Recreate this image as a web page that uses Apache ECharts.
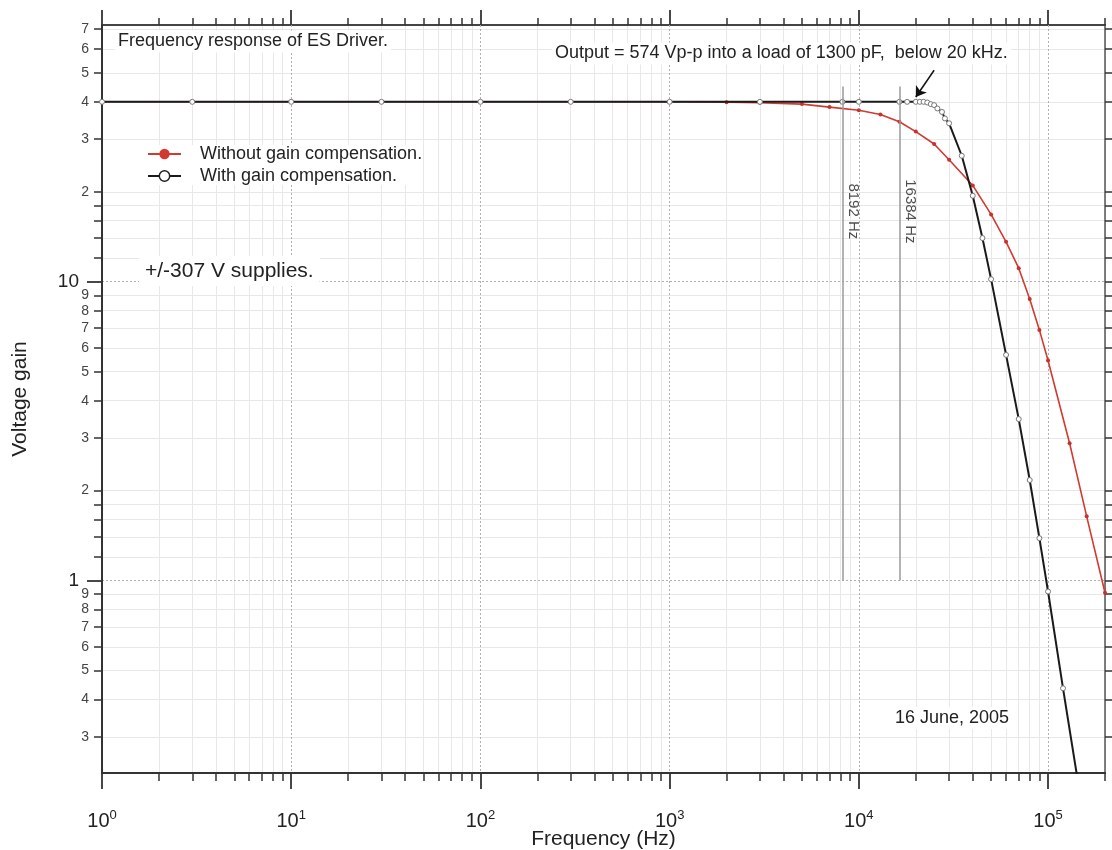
<!DOCTYPE html>
<html><head><meta charset="utf-8">
<script src="https://cdn.jsdelivr.net/npm/echarts@6/dist/echarts.min.js"></script>
<style>html,body{margin:0;padding:0;background:#fff}#c{width:1112px;height:850px}</style>
</head><body><div id="c"></div>
<script>
// ---------- data ----------
const freqWithout = [1,3,10,30,100,300,1000,2000,3000,5000,7000,10000,13000,16384,20000,25000,30000,40000,50000,60000,70000,80000,90000,100000,130000,160000,200000];
const gainWithout = [40,40,40,40,40,40,40,39.9,39.7,39.3,38.4,37.5,36.3,34.3,31.8,28.9,25.6,21.0,16.8,13.6,11.1,8.75,6.9,5.45,2.88,1.64,0.91];
const freqWith = [1,3,10,30,100,300,1000,3000,8192,10000,16384,18000,20000,21000,22000,23000,24000,25000,26000,27500,28500,30000,35000,40000,45000,50000,60000,70000,80000,90000,100000,120000,150000];
const gainWith = [40,40,40,40,40,40,40,40,40,40,40,40,40,40,40,39.8,39.3,39.0,38.0,37.0,35.2,33.9,26.4,19.4,14.0,10.2,5.69,3.47,2.17,1.386,0.919,0.436,0.18];
const seriesNames = ['Without gain compensation.', 'With gain compensation.'];
const markerFreqs = [8192, 16384];          // vertical reference lines
const markerTopGain = 45, markerBottomGain = 1, markerLabelGain = 17.2;
const arrowFrom = [25000, 51], arrowTo = [20000, 41.5];
const xRange = [1, 200000];
const yRange = [0.227, 72.3];
const xDecades = [0, 1, 2, 3, 4, 5];
const mantissas = [2, 3, 4, 5, 6, 7, 8, 9];
const yExtraMantissas = [1.2, 1.4, 1.6, 1.8];
const yDecades = [-1, 0, 1];
const yMajorGains = [1, 10];

// ---------- helpers ----------
const L = Math.log10;
const FONT = '"Liberation Sans", Arial, sans-serif';
const X_MIN = L(xRange[0]), X_MAX = L(xRange[1]);
const Y_MIN = L(yRange[0]), Y_MAX = L(yRange[1]);
const inX = v => v >= X_MIN - 1e-9 && v <= X_MAX + 1e-9;
const inY = v => v >= Y_MIN - 1e-9 && v <= Y_MAX + 1e-9;

const xMajor = xDecades.filter(inX);
const xMinor = [];
xDecades.forEach(d => mantissas.forEach(m => { const v = L(m) + d; if (inX(v)) xMinor.push(v); }));
const yMajor = yMajorGains.map(L);
const yMinorLabels = [], yMinorTicks = [];
yDecades.forEach(d => {
  mantissas.forEach(m => { const v = L(m) + d; if (inY(v)) { yMinorLabels.push(v); yMinorTicks.push(v); } });
  yExtraMantissas.forEach(m => { const v = L(m) + d; if (inY(v)) yMinorTicks.push(v); });
});
const mantissaOf = v => Math.round(Math.pow(10, v - Math.floor(v + 1e-9)));

const baseX = { type: 'value', min: X_MIN, max: X_MAX, axisLine: { onZero: false } };
const baseY = { type: 'value', min: Y_MIN, max: Y_MAX, axisLine: { onZero: false } };

const option = {
  backgroundColor: '#fff',
  animation: false,
  grid: { left: 102, right: 7, top: 25, bottom: 77, containLabel: false, outerBoundsMode: 'none' },
  xAxis: [
    Object.assign({}, baseX, { position: 'bottom',
      axisLine: { onZero: false, lineStyle: { color: '#333', width: 2 } },
      axisTick: { customValues: xMinor, length: 8, lineStyle: { color: '#333', width: 1.5 } },
      axisLabel: { show: false },
      splitLine: { show: true, lineStyle: { color: '#e8e8e8', width: 1 } } }),
    Object.assign({}, baseX, { position: 'bottom', z: 1,
      name: 'Frequency (Hz)', nameLocation: 'middle', nameGap: 56, nameMoveOverlap: false,
      nameTextStyle: { fontSize: 21, color: '#222', fontFamily: FONT },
      axisLine: { onZero: false, lineStyle: { color: '#333', width: 2 } },
      axisTick: { customValues: xMajor, length: 16, lineStyle: { color: '#333', width: 1.8 } },
      axisLabel: { customValues: xMajor, margin: 36,
        formatter: v => '{b|10}{s|' + Math.round(v) + '}',
        rich: { b: { fontSize: 20, color: '#222', fontFamily: FONT, lineHeight: 24 },
                s: { fontSize: 13, color: '#222', fontFamily: FONT, verticalAlign: 'top', lineHeight: 13 } } },
      splitLine: { show: true, lineStyle: { color: '#b0b0b0', width: 1, type: [2, 2] } } }),
    Object.assign({}, baseX, { position: 'top',
      axisLine: { onZero: false, lineStyle: { color: '#444', width: 2 } },
      axisTick: { customValues: xMinor, length: 7, lineStyle: { color: '#333', width: 1.5 } },
      axisLabel: { show: false }, splitLine: { show: false } }),
    Object.assign({}, baseX, { position: 'top',
      axisLine: { onZero: false, lineStyle: { color: '#444', width: 2 } },
      axisTick: { customValues: xMajor, length: 15, lineStyle: { color: '#333', width: 1.8 } },
      axisLabel: { show: false }, splitLine: { show: false } })
  ],
  yAxis: [
    Object.assign({}, baseY, { position: 'left',
      axisLine: { onZero: false, lineStyle: { color: '#333', width: 2 } },
      axisTick: { customValues: yMinorTicks, length: 8, lineStyle: { color: '#333', width: 1.5 } },
      axisLabel: { customValues: yMinorLabels, margin: 13, fontSize: 14, color: '#444', fontFamily: FONT,
        formatter: v => String(mantissaOf(v)) },
      splitLine: { show: true, lineStyle: { color: '#e8e8e8', width: 1 } } }),
    Object.assign({}, baseY, { position: 'left', z: 1,
      name: 'Voltage gain', nameLocation: 'middle', nameGap: 71, nameRotate: 90, nameMoveOverlap: false,
      nameTextStyle: { fontSize: 21, color: '#222', fontFamily: FONT },
      axisLine: { onZero: false, lineStyle: { color: '#333', width: 2 } },
      axisTick: { customValues: yMajor, length: 15, lineStyle: { color: '#333', width: 1.8 } },
      axisLabel: { customValues: yMajor, margin: 23, fontSize: 19, color: '#222', fontFamily: FONT,
        formatter: v => String(Math.round(Math.pow(10, v))) },
      splitLine: { show: true, lineStyle: { color: '#b0b0b0', width: 1, type: [2, 2] } } }),
    Object.assign({}, baseY, { position: 'right',
      axisLine: { onZero: false, lineStyle: { color: '#555', width: 1.5 } },
      axisTick: { customValues: yMajor.concat(yMinorTicks), length: 7, lineStyle: { color: '#333', width: 1.5 } },
      axisLabel: { show: false }, splitLine: { show: false } })
  ],
  legend: {
    orient: 'vertical', left: 147, top: 145, itemGap: 4, itemWidth: 33, itemHeight: 13,
    backgroundColor: '#fff', padding: 0,
    textStyle: { fontSize: 18, color: '#222', fontFamily: FONT, padding: [0, 0, 0, 14] },
    data: [
      { name: seriesNames[0], itemStyle: { color: '#d23a30' } },
      { name: seriesNames[1], itemStyle: { color: '#fff', borderColor: '#222', borderWidth: 1.5 } }
    ]
  },
  graphic: [
    { type: 'text', x: 115, y: 41.5, z: 10, style: { text: 'Frequency response of ES Driver.', font: '18px ' + FONT, fill: '#222', verticalAlign: 'middle', backgroundColor: '#fff', padding: [2, 3] } },
    { type: 'text', x: 552, y: 53.5, z: 10, style: { text: 'Output = 574 Vp-p into a load of 1300 pF,  below 20 kHz.', font: '18px ' + FONT, fill: '#222', verticalAlign: 'middle', backgroundColor: '#fff', padding: [2, 3] } },
    { type: 'text', x: 139, y: 271, z: 10, style: { text: '+/-307 V supplies.', font: '21px ' + FONT, fill: '#222', verticalAlign: 'middle', backgroundColor: '#fff', padding: [3, 6, 6, 6] } },
    { type: 'text', x: 892, y: 718, z: 10, style: { text: '16 June, 2005', font: '18px ' + FONT, fill: '#222', verticalAlign: 'middle', backgroundColor: '#fff', padding: [2, 3] } }
  ],
  series: [
    {
      name: seriesNames[0], type: 'line', xAxisIndex: 1, yAxisIndex: 1, z: 3,
      data: freqWithout.map((f, i) => [L(f), L(gainWithout[i])]),
      symbol: 'circle', symbolSize: 4, showAllSymbol: true, clip: true,
      lineStyle: { color: '#d23a30', width: 1.6 }, itemStyle: { color: '#c8302a' }
    },
    {
      name: seriesNames[1], type: 'line', xAxisIndex: 1, yAxisIndex: 1, z: 4,
      data: freqWith.map((f, i) => [L(f), L(gainWith[i])]),
      symbol: 'circle', symbolSize: 5, showAllSymbol: true, clip: true,
      lineStyle: { color: '#1a1a1a', width: 2 }, itemStyle: { color: '#fff', borderColor: '#777', borderWidth: 1 },
      markLine: {
        silent: true, symbol: ['none', 'arrow'], symbolSize: 10,
        lineStyle: { color: '#111', width: 1.5, type: 'solid' }, label: { show: false },
        data: [[{ coord: [L(arrowFrom[0]), L(arrowFrom[1])] }, { coord: [L(arrowTo[0]), L(arrowTo[1])] }]]
      }
    },
    {
      name: 'markers', type: 'scatter', xAxisIndex: 1, yAxisIndex: 1, z: 5, silent: true,
      symbolSize: 0,
      data: markerFreqs.map(f => [L(f), L(markerLabelGain)]),
      label: { show: true, position: 'inside', rotate: -90, offset: [0, -11], fontSize: 15, color: '#222', fontFamily: FONT,
        formatter: p => markerFreqs[p.dataIndex] + ' Hz' },
      markLine: {
        silent: true, symbol: ['none', 'none'],
        lineStyle: { color: '#9a9a9a', width: 1.5, type: 'solid' }, label: { show: false },
        data: markerFreqs.map(f => [{ coord: [L(f), L(markerTopGain)] }, { coord: [L(f), L(markerBottomGain)] }])
      }
    }
  ]
};
echarts.init(document.getElementById('c'), null, { renderer: 'canvas' }).setOption(option);
</script>
</body></html>
